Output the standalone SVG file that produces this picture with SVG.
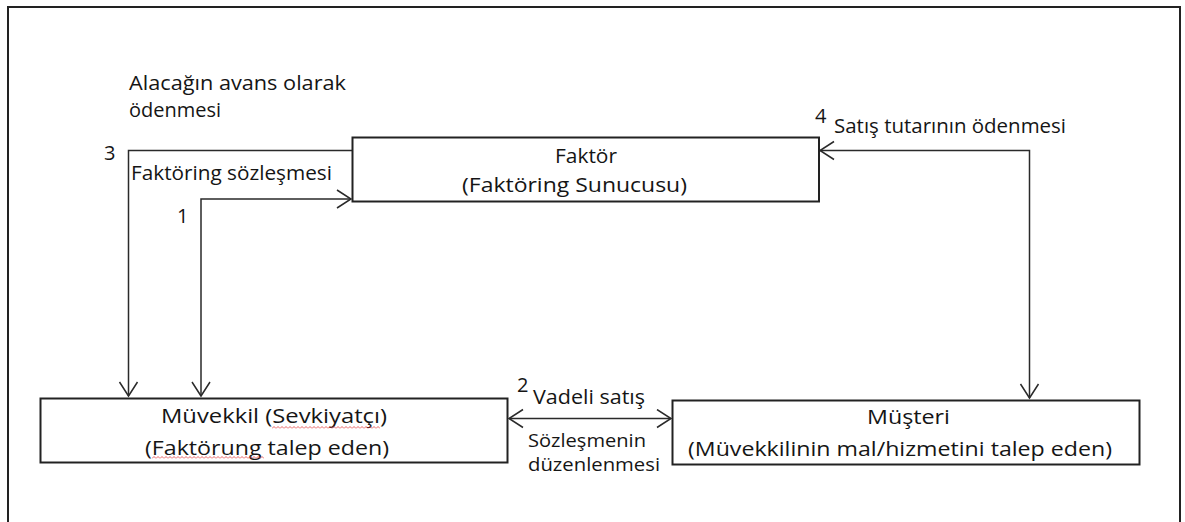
<svg xmlns="http://www.w3.org/2000/svg" width="1185" height="522" viewBox="0 0 1185 522">
<style>
.bg{fill:#ffffff}
.frame{fill:none;stroke:#222;stroke-width:2}
.box{fill:#ffffff;stroke:#222;stroke-width:2}
.conn{fill:none;stroke:#2a2a2a;stroke-width:1.5}
.t{font-family:"Open Sans","Liberation Sans",sans-serif;font-size:20px;fill:#151515}
.s{font-size:17.5px}
</style>
<defs>
<marker id="arr" markerUnits="userSpaceOnUse" markerWidth="20" markerHeight="22" viewBox="0 0 20 22" refX="15" refY="10" orient="auto-start-reverse">
<path d="M1,1 L15,10 L1,19" fill="none" stroke="#2a2a2a" stroke-width="1.5"/>
</marker>
<pattern id="sq" width="4" height="3" patternUnits="userSpaceOnUse">
<path d="M0,2.5 L2,0.5 L4,2.5" fill="none" stroke="#e23b3b" stroke-width="0.8"/>
</pattern>
</defs>
<rect class="bg" x="0" y="0" width="1185" height="522"/>
<rect class="frame" x="8" y="7" width="1172" height="530"/>

<g id="connectors">
<path class="conn" d="M354,150.5 H128.5 V396" marker-end="url(#arr)"/>
<path class="conn" d="M351,199 H201 V396" marker-start="url(#arr)" marker-end="url(#arr)"/>
<path class="conn" d="M820,150.5 H1029.5 V398" marker-start="url(#arr)" marker-end="url(#arr)"/>
<path class="conn" d="M509,418.5 H671" marker-start="url(#arr)" marker-end="url(#arr)"/>
</g>

<g id="labels">
<text class="t" x="129" y="90" textLength="217" lengthAdjust="spacingAndGlyphs">Alacağın avans olarak</text>
<text class="t" x="129" y="117" textLength="92" lengthAdjust="spacingAndGlyphs">ödenmesi</text>
<text class="t" x="104" y="160">3</text>
<text class="t" x="131" y="180" textLength="201" lengthAdjust="spacingAndGlyphs">Faktöring sözleşmesi</text>
<text class="t" x="177" y="223">1</text>
<text class="t" x="815" y="123">4</text>
<text class="t" x="834" y="133" textLength="232" lengthAdjust="spacingAndGlyphs">Satış tutarının ödenmesi</text>
<text class="t" x="517" y="392">2</text>
<text class="t" x="533" y="404" textLength="112" lengthAdjust="spacingAndGlyphs">Vadeli satış</text>
<text class="t s" x="528" y="447" textLength="118" lengthAdjust="spacingAndGlyphs">Sözleşmenin</text>
<text class="t s" x="528" y="471" textLength="132" lengthAdjust="spacingAndGlyphs">düzenlenmesi</text>
</g>

<g id="node-faktor">
<rect class="box" x="352.5" y="137.5" width="466.5" height="64"/>
<text class="t" x="555" y="163" textLength="62" lengthAdjust="spacingAndGlyphs">Faktör</text>
<text class="t" x="462" y="192" textLength="225" lengthAdjust="spacingAndGlyphs">(Faktöring Sunucusu)</text>
</g>

<g id="node-muvekkil">
<rect class="box" x="40.5" y="398.5" width="467" height="64"/>
<text class="t" x="161" y="423" textLength="226" lengthAdjust="spacingAndGlyphs">Müvekkil (Sevkiyatçı)</text>
<text class="t" x="145" y="455" textLength="244" lengthAdjust="spacingAndGlyphs">(Faktörung talep eden)</text>
<rect x="272" y="426" width="108" height="3" fill="url(#sq)"/>
<rect x="152" y="456" width="112" height="3" fill="url(#sq)"/>
</g>

<g id="node-musteri">
<rect class="box" x="672.5" y="400.5" width="467" height="64"/>
<text class="t" x="867" y="424" textLength="83" lengthAdjust="spacingAndGlyphs">Müşteri</text>
<text class="t" x="688" y="456" textLength="424" lengthAdjust="spacingAndGlyphs">(Müvekkilinin mal/hizmetini talep eden)</text>
</g>
</svg>
